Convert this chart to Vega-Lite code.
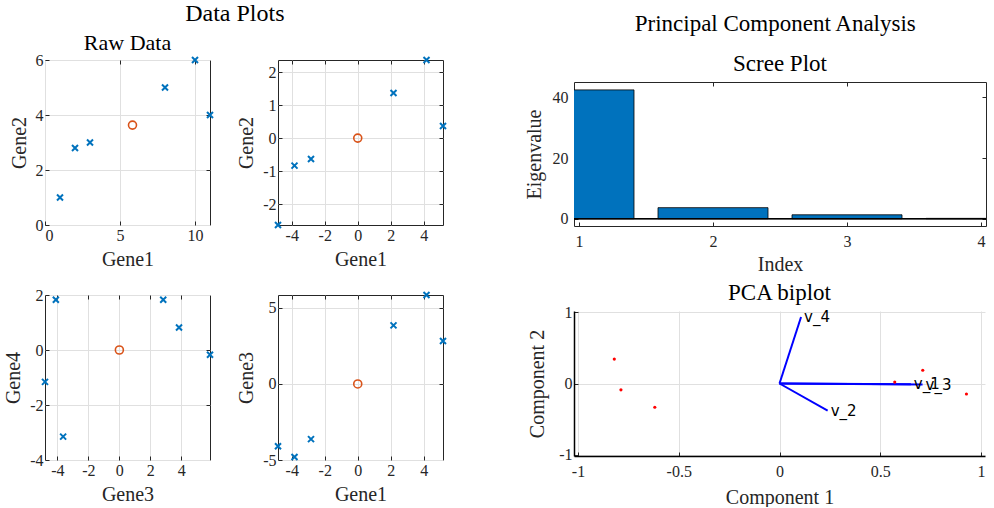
{
  "$schema": "https://vega.github.io/schema/vega-lite/v6.json",
  "background": "white",
  "padding": {"left": 3, "top": 2, "right": 0, "bottom": 0},
  "datasets": {
    "raw": [
      {"Gene1": 1, "Gene2": 1},
      {"Gene1": 2, "Gene2": 2.8},
      {"Gene1": 3, "Gene2": 3},
      {"Gene1": 8, "Gene2": 5},
      {"Gene1": 10, "Gene2": 6},
      {"Gene1": 11, "Gene2": 4}
    ],
    "rawMean": [{"Gene1": 5.833, "Gene2": 3.633}],
    "centered": [
      {"Gene1": -4.833, "Gene2": -2.633, "Gene3": -4.1, "Gene4": 1.83},
      {"Gene1": -3.833, "Gene2": -0.833, "Gene3": -4.8, "Gene4": -1.16},
      {"Gene1": -2.833, "Gene2": -0.633, "Gene3": -3.63, "Gene4": -3.15},
      {"Gene1": 2.167, "Gene2": 1.367, "Gene3": 3.85, "Gene4": 0.82},
      {"Gene1": 4.167, "Gene2": 2.367, "Gene3": 5.85, "Gene4": -0.17},
      {"Gene1": 5.167, "Gene2": 0.367, "Gene3": 2.83, "Gene4": 1.83}
    ],
    "centeredMean": [{"Gene1": 0, "Gene2": 0, "Gene3": 0, "Gene4": 0}],
    "eigen": [
      {"Index": 1, "Eigenvalue": 42.5},
      {"Index": 2, "Eigenvalue": 3.65},
      {"Index": 3, "Eigenvalue": 1.3},
      {"Index": 4, "Eigenvalue": 0.12}
    ],
    "scores": [
      {"Component1": -0.82, "Component2": 0.343},
      {"Component1": -0.787, "Component2": -0.089},
      {"Component1": -0.619, "Component2": -0.334},
      {"Component1": 0.572, "Component2": 0.02},
      {"Component1": 0.711, "Component2": 0.187},
      {"Component1": 0.928, "Component2": -0.148}
    ],
    "loadings": [
      {"Variable": "v_1", "Component1": 0.652, "Component2": -0.01},
      {"Variable": "v_2", "Component1": 0.239, "Component2": -0.381},
      {"Variable": "v_3", "Component1": 0.71, "Component2": -0.015},
      {"Variable": "v_4", "Component1": 0.107, "Component2": 0.936}
    ]
  },
  "hconcat": [
    {
      "title": {"text": "Data Plots", "offset": 4, "dx": 8, "fontSize": 24},
      "spacing": 0,
      "vconcat": [
        {
          "width": 398,
          "height": 1,
          "view": {"stroke": null},
          "data": {"values": []},
          "mark": "point"
        },
        {
          "spacing": 16,
          "vconcat": [
            {
              "bounds": "flush",
              "spacing": 68,
              "hconcat": [
                {
                  "width": 165,
                  "height": 165,
                  "title": {"text": "Raw Data", "offset": -3, "frame": "group", "fontSize": 22},
                  "resolve": {"axis": {"x": "independent", "y": "independent"}},
                  "layer": [
                    {
                      "data": {"name": "raw"},
                      "mark": {"type": "point", "shape": "M-1,-1L1,1M-1,1L1,-1", "filled": false, "size": 36, "strokeWidth": 2, "color": "#0072BD", "opacity": 1},
                      "encoding": {
                        "x": {"field": "Gene1", "type": "quantitative", "scale": {"domain": [0, 11], "nice": false, "zero": false}, "axis": {"values": [0, 5, 10], "title": "Gene1", "orient": "bottom"}},
                        "y": {"field": "Gene2", "type": "quantitative", "scale": {"domain": [0, 6], "nice": false, "zero": false}, "axis": {"values": [0, 2, 4, 6], "title": "Gene2", "orient": "left"}}
                      }
                    },
                    {
                      "data": {"name": "rawMean"},
                      "mark": {"type": "point", "shape": "circle", "filled": false, "size": 64, "strokeWidth": 1.6, "color": "#D95319", "opacity": 1},
                      "encoding": {
                        "x": {"field": "Gene1", "type": "quantitative", "axis": null},
                        "y": {"field": "Gene2", "type": "quantitative", "axis": null}
                      }
                    },
                    {
                      "data": {"name": "raw"},
                      "mark": {"type": "point", "opacity": 0},
                      "encoding": {
                        "x": {"field": "Gene1", "type": "quantitative", "axis": {"orient": "top", "values": [5, 10], "labels": false, "title": null, "grid": false}},
                        "y": {"field": "Gene2", "type": "quantitative", "axis": {"orient": "right", "values": [2, 4], "labels": false, "title": null, "grid": false}}
                      }
                    }
                  ]
                },
                {
                  "width": 165,
                  "height": 165,
                  "resolve": {"axis": {"x": "independent", "y": "independent"}},
                  "layer": [
                    {
                      "data": {"name": "centered"},
                      "mark": {"type": "point", "shape": "M-1,-1L1,1M-1,1L1,-1", "filled": false, "size": 36, "strokeWidth": 2, "color": "#0072BD", "opacity": 1},
                      "encoding": {
                        "x": {"field": "Gene1", "type": "quantitative", "scale": {"domain": [-4.833, 5.167], "nice": false, "zero": false}, "axis": {"values": [-4, -2, 0, 2, 4], "title": "Gene1", "orient": "bottom"}},
                        "y": {"field": "Gene2", "type": "quantitative", "scale": {"domain": [-2.633, 2.367], "nice": false, "zero": false}, "axis": {"values": [-2, -1, 0, 1, 2], "title": "Gene2", "orient": "left"}}
                      }
                    },
                    {
                      "data": {"name": "centeredMean"},
                      "mark": {"type": "point", "shape": "circle", "filled": false, "size": 64, "strokeWidth": 1.6, "color": "#D95319", "opacity": 1},
                      "encoding": {
                        "x": {"field": "Gene1", "type": "quantitative", "axis": null},
                        "y": {"field": "Gene2", "type": "quantitative", "axis": null}
                      }
                    },
                    {
                      "data": {"name": "centered"},
                      "mark": {"type": "point", "opacity": 0},
                      "encoding": {
                        "x": {"field": "Gene1", "type": "quantitative", "axis": {"orient": "top", "values": [-4, -2, 0, 2, 4], "labels": false, "title": null, "grid": false}},
                        "y": {"field": "Gene2", "type": "quantitative", "axis": {"orient": "right", "values": [-2, -1, 0, 1, 2], "labels": false, "title": null, "grid": false}}
                      }
                    }
                  ]
                }
              ]
            },
            {
              "bounds": "flush",
              "spacing": 68,
              "hconcat": [
                {
                  "width": 165,
                  "height": 165,
                  "resolve": {"axis": {"x": "independent", "y": "independent"}},
                  "layer": [
                    {
                      "data": {"name": "centered"},
                      "mark": {"type": "point", "shape": "M-1,-1L1,1M-1,1L1,-1", "filled": false, "size": 36, "strokeWidth": 2, "color": "#0072BD", "opacity": 1},
                      "encoding": {
                        "x": {"field": "Gene3", "type": "quantitative", "scale": {"domain": [-4.8, 5.85], "nice": false, "zero": false}, "axis": {"values": [-4, -2, 0, 2, 4], "title": "Gene3", "orient": "bottom"}},
                        "y": {"field": "Gene4", "type": "quantitative", "scale": {"domain": [-4, 2], "nice": false, "zero": false}, "axis": {"values": [-4, -2, 0, 2], "title": "Gene4", "orient": "left"}}
                      }
                    },
                    {
                      "data": {"name": "centeredMean"},
                      "mark": {"type": "point", "shape": "circle", "filled": false, "size": 64, "strokeWidth": 1.6, "color": "#D95319", "opacity": 1},
                      "encoding": {
                        "x": {"field": "Gene3", "type": "quantitative", "axis": null},
                        "y": {"field": "Gene4", "type": "quantitative", "axis": null}
                      }
                    },
                    {
                      "data": {"name": "centered"},
                      "mark": {"type": "point", "opacity": 0},
                      "encoding": {
                        "x": {"field": "Gene3", "type": "quantitative", "axis": {"orient": "top", "values": [-4, -2, 0, 2, 4], "labels": false, "title": null, "grid": false}},
                        "y": {"field": "Gene4", "type": "quantitative", "axis": {"orient": "right", "values": [-2, 0], "labels": false, "title": null, "grid": false}}
                      }
                    }
                  ]
                },
                {
                  "width": 165,
                  "height": 165,
                  "resolve": {"axis": {"x": "independent", "y": "independent"}},
                  "layer": [
                    {
                      "data": {"name": "centered"},
                      "mark": {"type": "point", "shape": "M-1,-1L1,1M-1,1L1,-1", "filled": false, "size": 36, "strokeWidth": 2, "color": "#0072BD", "opacity": 1},
                      "encoding": {
                        "x": {"field": "Gene1", "type": "quantitative", "scale": {"domain": [-4.833, 5.167], "nice": false, "zero": false}, "axis": {"values": [-4, -2, 0, 2, 4], "title": "Gene1", "orient": "bottom"}},
                        "y": {"field": "Gene3", "type": "quantitative", "scale": {"domain": [-5, 5.85], "nice": false, "zero": false}, "axis": {"values": [-5, 0, 5], "title": "Gene3", "orient": "left"}}
                      }
                    },
                    {
                      "data": {"name": "centeredMean"},
                      "mark": {"type": "point", "shape": "circle", "filled": false, "size": 64, "strokeWidth": 1.6, "color": "#D95319", "opacity": 1},
                      "encoding": {
                        "x": {"field": "Gene1", "type": "quantitative", "axis": null},
                        "y": {"field": "Gene3", "type": "quantitative", "axis": null}
                      }
                    },
                    {
                      "data": {"name": "centered"},
                      "mark": {"type": "point", "opacity": 0},
                      "encoding": {
                        "x": {"field": "Gene1", "type": "quantitative", "axis": {"orient": "top", "values": [-4, -2, 0, 2, 4], "labels": false, "title": null, "grid": false}},
                        "y": {"field": "Gene3", "type": "quantitative", "axis": {"orient": "right", "values": [0, 5], "labels": false, "title": null, "grid": false}}
                      }
                    }
                  ]
                }
              ]
            }
          ]
        }
      ]
    },
    {
      "title": {"text": "Principal Component Analysis", "offset": 0, "dy": 6, "dx": 20, "fontSize": 23},
      "spacing": 0,
      "vconcat": [
        {
          "width": 412,
          "height": 22,
          "view": {"stroke": null},
          "data": {"values": []},
          "mark": "point"
        },
        {
          "spacing": 7,
          "vconcat": [
            {
              "width": 412,
              "height": 144,
              "title": {"text": "Scree Plot", "offset": 6, "frame": "group", "fontSize": 23},
              "data": {"name": "eigen"},
              "resolve": {"axis": {"x": "independent", "y": "independent"}},
              "layer": [
                {
                  "mark": {"type": "bar", "width": 110, "color": "#0072BD", "stroke": "#000000", "strokeWidth": 0.8, "clip": true},
                  "encoding": {
                    "x": {"field": "Index", "type": "quantitative", "scale": {"domain": [1, 4], "nice": false, "zero": false}, "axis": {"values": [1, 2, 3, 4], "title": "Index", "grid": false, "labelPadding": 11, "titlePadding": 5, "orient": "bottom"}},
                    "y": {"field": "Eigenvalue", "type": "quantitative", "scale": {"domain": [-2.4, 45.1], "nice": false, "zero": false}, "axis": {"values": [0, 20, 40], "title": "Eigenvalue", "grid": false, "labelPadding": 10, "titlePadding": 8, "orient": "left"}},
                    "y2": {"datum": 0}
                  }
                },
                {
                  "mark": {"type": "rule", "color": "#000000", "strokeWidth": 1},
                  "encoding": {"y": {"datum": 0, "axis": null}}
                },
                {
                  "mark": {"type": "point", "opacity": 0},
                  "encoding": {
                    "x": {"field": "Index", "type": "quantitative", "axis": {"orient": "top", "values": [2, 3], "labels": false, "title": null, "grid": false}},
                    "y": {"field": "Eigenvalue", "type": "quantitative", "axis": {"orient": "right", "values": [0, 20, 40], "labels": false, "title": null, "grid": false}}
                  }
                }
              ]
            },
            {
              "width": 411,
              "height": 145,
              "title": {"text": "PCA biplot", "offset": -1, "frame": "group", "fontSize": 23},
              "view": {"stroke": null},
              "layer": [
                {
                  "mark": {"type": "rule", "color": "#000000", "strokeWidth": 1.5},
                  "encoding": {"x": {"datum": 0, "type": "quantitative", "scale": {"domain": [-1.02, 1.02], "nice": false, "zero": false}, "axis": {"values": [-1, -0.5, 0, 0.5, 1], "title": "Component 1", "domain": true, "domainColor": "#000000", "domainWidth": 1.5, "labelPadding": 11, "titlePadding": 8}}}
                },
                {
                  "mark": {"type": "rule", "color": "#000000", "strokeWidth": 1.5},
                  "encoding": {"y": {"datum": 0, "type": "quantitative", "scale": {"domain": [-1.02, 1.02], "nice": false, "zero": false}, "axis": {"values": [-1, 0, 1], "title": "Component 2", "domain": true, "domainColor": "#000000", "domainWidth": 1.5, "titlePadding": 11}}}
                },
                {
                  "data": {"name": "loadings"},
                  "mark": {"type": "rule", "color": "#0000FF", "strokeWidth": 2},
                  "encoding": {
                    "x": {"field": "Component1", "type": "quantitative"},
                    "y": {"field": "Component2", "type": "quantitative"},
                    "x2": {"datum": 0},
                    "y2": {"datum": 0}
                  }
                },
                {
                  "data": {"name": "scores"},
                  "mark": {"type": "point", "shape": "circle", "filled": true, "size": 10, "color": "#FF0000", "opacity": 1},
                  "encoding": {
                    "x": {"field": "Component1", "type": "quantitative"},
                    "y": {"field": "Component2", "type": "quantitative"}
                  }
                },
                {
                  "data": {"name": "loadings"},
                  "mark": {"type": "text", "font": "DejaVu Sans", "fontSize": 15, "align": "left", "baseline": "middle", "dx": 3, "color": "#000000"},
                  "encoding": {
                    "x": {"field": "Component1", "type": "quantitative"},
                    "y": {"field": "Component2", "type": "quantitative"},
                    "text": {"field": "Variable"}
                  }
                }
              ]
            }
          ]
        }
      ]
    }
  ],
  "spacing": 72,
  "config": {
    "font": "Liberation Serif",
    "view": {"stroke": "#262626", "strokeWidth": 1},
    "axis": {
      "domain": false,
      "grid": true,
      "gridColor": "#e0e0e0",
      "gridWidth": 1,
      "ticks": true,
      "tickSize": -4,
      "tickColor": "#262626",
      "labelPadding": 6,
      "labelFont": "Liberation Serif",
      "labelFontSize": 16,
      "labelColor": "#262626",
      "labelExpr": "'' + datum.value",
      "titleFont": "Liberation Serif",
      "titleFontSize": 20,
      "titleFontWeight": "normal",
      "titleColor": "#262626",
      "titlePadding": 6
    },
    "title": {"font": "Liberation Serif", "fontSize": 22, "fontWeight": "normal", "color": "#000000", "anchor": "middle"}
  }
}
